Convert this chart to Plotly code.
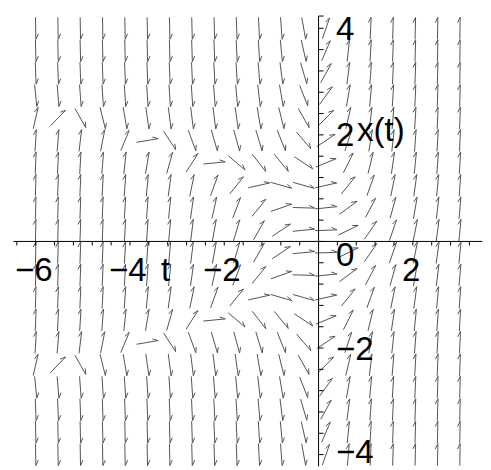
import numpy as np
import plotly.graph_objects as go

# Direction field of the ODE  x'(t) = t * (t + x(t)^2)
T_START, T_END, T_COUNT = -6.0, 3.0, 20
X_START, X_END, X_COUNT = -4.0, 4.0, 20
t_grid = np.linspace(T_START, T_END, T_COUNT)
x_grid = np.linspace(X_START, X_END, X_COUNT)


def rhs(t, x):
    return t * (t + x ** 2)


# axis extents, tick step and labels
t_axis = (-6.47, 3.47)
x_axis = (-4.22, 4.23)
tick_step = 0.4
t_labels = [(-6, "\u22126"), (-4, "\u22124"), (-2, "\u22122"), (0, "0"), (2, "2")]
x_labels = [(4, "4"), (2, "2"), (-2, "\u22122"), (-4, "\u22124")]

W, H = 491, 470
t_view = (-6.757, 3.658)
x_view = (-4.289, 4.531)
kt = W / (t_view[1] - t_view[0])   # pixels per unit of t
kx = H / (x_view[1] - x_view[0])   # pixels per unit of x

ARROW_PX = 22.0
BARB_PX = 6.0
BARB_ANG = np.radians(25)

ax_t, ax_x = [], []
for t in t_grid:
    for x in x_grid:
        f = rhs(t, x)
        d = np.array([kt * 1.0, kx * f])
        d /= np.hypot(*d)
        half = d * ARROW_PX / 2
        p0 = (t - half[0] / kt, x - half[1] / kx)
        p1 = (t + half[0] / kt, x + half[1] / kx)
        c, s = np.cos(BARB_ANG), np.sin(BARB_ANG)
        back = -d
        b = np.array([c * back[0] + s * back[1], -s * back[0] + c * back[1]]) * BARB_PX
        p2 = (p1[0] + b[0] / kt, p1[1] + b[1] / kx)
        ax_t += [p0[0], p1[0], p2[0], None]
        ax_x += [p0[1], p1[1], p2[1], None]

# axes with ticks
ln_t = [t_axis[0], t_axis[1], None, 0, 0, None]
ln_x = [0, 0, None, x_axis[0], x_axis[1], None]
TICK_PX = 4.0
for k in np.arange(np.ceil(t_axis[0] / tick_step), np.floor(t_axis[1] / tick_step) + 1):
    tv = k * tick_step
    ln_t += [tv, tv, None]
    ln_x += [0, -TICK_PX / kx, None]
for k in np.arange(np.ceil(x_axis[0] / tick_step), np.floor(x_axis[1] / tick_step) + 1):
    xv = k * tick_step
    ln_t += [0, 5.0 / kt, None]
    ln_x += [xv, xv, None]
ln_t += [0, 5.0 / kt, None]
ln_x += [x_axis[1], x_axis[1], None]

fig = go.Figure()
fig.add_trace(go.Scatter(x=ax_t, y=ax_x, mode="lines",
                         line=dict(color="#555555", width=1),
                         hoverinfo="skip", showlegend=False))
fig.add_trace(go.Scatter(x=ln_t, y=ln_x, mode="lines",
                         line=dict(color="black", width=1),
                         hoverinfo="skip", showlegend=False))

FONT = dict(family="Liberation Sans, Arial, sans-serif", size=33, color="black")
for tv, txt in t_labels:
    if tv == 0:
        fig.add_annotation(x=tv, y=0, text=txt, showarrow=False, font=FONT,
                           xanchor="center", yanchor="middle", xshift=26, yshift=-13)
    else:
        fig.add_annotation(x=tv, y=0, text=txt, showarrow=False, font=FONT,
                           xanchor="center", yanchor="middle", xshift=-2, yshift=-28)
for xv, txt in x_labels:
    shift = 3 if xv == -4 else 0
    fig.add_annotation(x=0, y=xv, text=txt, showarrow=False, font=FONT,
                       xanchor="left", yanchor="middle", xshift=15, yshift=shift)
fig.add_annotation(x=-3.24, y=0, text="t", showarrow=False, font=FONT,
                   xanchor="center", yanchor="middle", yshift=-28)
fig.add_annotation(x=0, y=2, text="x(t)", showarrow=False, font=FONT,
                   xanchor="left", yanchor="middle", xshift=36, yshift=5)

fig.update_layout(
    width=W, height=H,
    margin=dict(l=0, r=0, t=0, b=0),
    paper_bgcolor="white", plot_bgcolor="white",
    xaxis=dict(range=list(t_view), visible=False, fixedrange=True),
    yaxis=dict(range=list(x_view), visible=False, fixedrange=True),
)
fig.write_html("out.html")
